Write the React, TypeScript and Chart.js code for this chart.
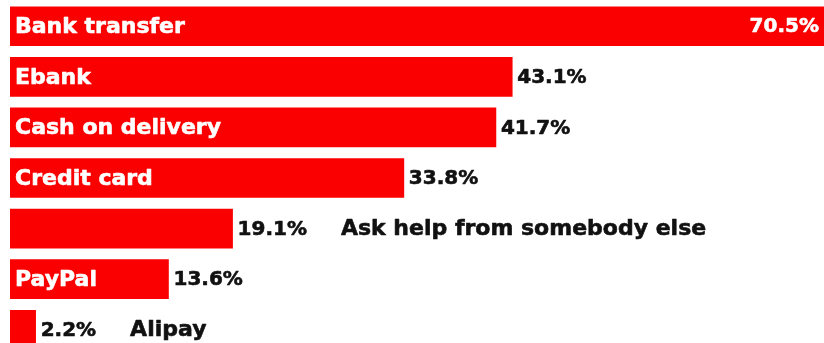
import React, { useEffect, useRef } from "react";
import { Chart, registerables } from "chart.js";

Chart.register(...registerables);

const categories = [
  "Bank transfer",
  "Ebank",
  "Cash on delivery",
  "Credit card",
  "Ask help from somebody else",
  "PayPal",
  "Alipay",
];
const values = [70.5, 43.1, 41.7, 33.8, 19.1, 13.6, 2.2];
const valueLabels = ["70.5%", "43.1%", "41.7%", "33.8%", "19.1%", "13.6%", "2.2%"];

const RED = "#fb0000";
const FONT = "'DejaVu Sans', sans-serif";
const VISIBLE_W = 824;

function heavyText(ctx: any, text: string, x: number, y: number, color: string) {
  ctx.fillStyle = color;
  ctx.strokeStyle = color;
  ctx.lineWidth = 0.6;
  ctx.lineJoin = "round";
  ctx.fillText(text, x, y);
  ctx.strokeText(text, x, y);
}

const labelPlugin = {
  id: "barLabels",
  afterDatasetsDraw(chart: any) {
    const ctx = chart.ctx;
    const meta = chart.getDatasetMeta(0);
    ctx.save();
    ctx.textBaseline = "middle";
    meta.data.forEach((bar: any, i: number) => {
      const x0 = bar.base;
      const x1 = bar.x;
      const y = bar.y + 1;
      const catFont = `bold 22px ${FONT}`;
      const valFont = `bold 20px ${FONT}`;
      ctx.font = catFont;
      const catW = ctx.measureText(categories[i]).width;
      ctx.font = valFont;
      const valW = ctx.measureText(valueLabels[i]).width;
      const catInside = catW + 12 < x1 - x0;
      let valEnd: number;
      if (x1 + 5 + valW > VISIBLE_W) {
        ctx.textAlign = "right";
        heavyText(ctx, valueLabels[i], VISIBLE_W - 5, y, "#ffffff");
        valEnd = VISIBLE_W;
      } else {
        ctx.textAlign = "left";
        heavyText(ctx, valueLabels[i], x1 + 5, y, "#111111");
        valEnd = x1 + 5 + valW;
      }
      ctx.font = catFont;
      ctx.textAlign = "left";
      if (catInside) {
        heavyText(ctx, categories[i], x0 + 5, y, "#ffffff");
      } else {
        heavyText(ctx, categories[i], valEnd + 34, y, "#111111");
      }
    });
    ctx.restore();
  },
};

export default function App() {
  const ref = useRef<HTMLCanvasElement | null>(null);
  useEffect(() => {
    if (!ref.current) return;
    const chart = new Chart(ref.current, {
      type: "bar",
      data: {
        labels: categories,
        datasets: [
          {
            data: values,
            backgroundColor: RED,
            borderWidth: 0,
            barThickness: 39,
          },
        ],
      },
      options: {
        indexAxis: "y",
        animation: false,
        responsive: false,
        devicePixelRatio: 1,
        layout: { padding: { left: 10, top: 1, right: 0, bottom: 0 } },
        plugins: { legend: { display: false }, tooltip: { enabled: false } },
        scales: {
          x: { display: false, min: 0, max: 72 },
          y: { display: false },
        },
      },
      plugins: [labelPlugin],
    });
    return () => chart.destroy();
  }, []);
  return (
    <div
      style={{
        position: "fixed",
        left: 0,
        top: 0,
        width: 824,
        height: 343,
        overflow: "hidden",
        background: "#fff",
      }}
    >
      <canvas ref={ref} width={849} height={355} style={{ width: 849, height: 355, display: "block" }} />
    </div>
  );
}
